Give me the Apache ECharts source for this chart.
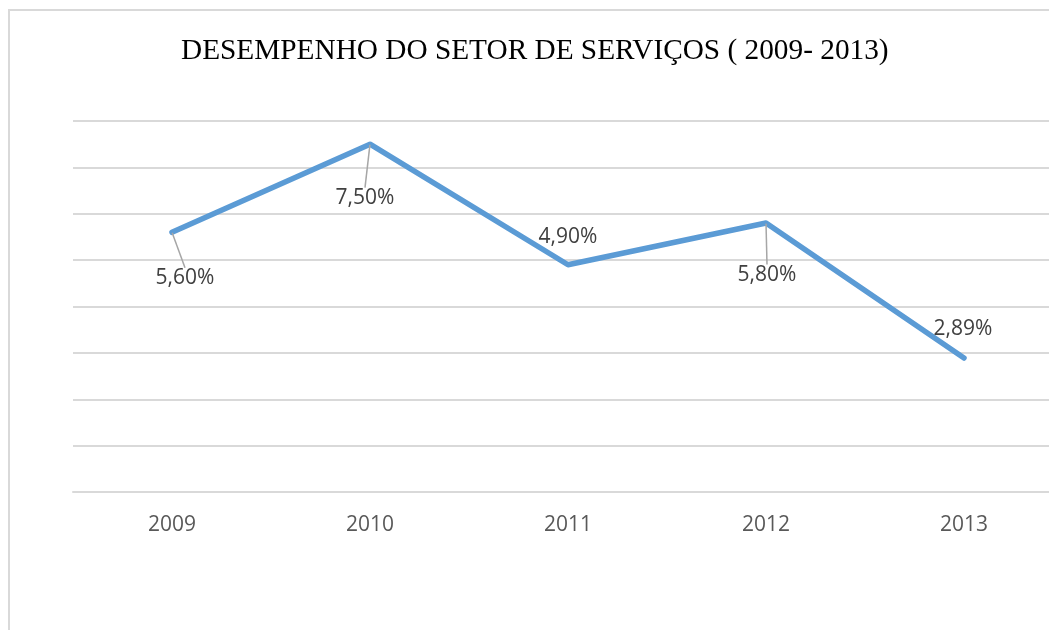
<!DOCTYPE html>
<html>
<head>
<meta charset="utf-8">
<script src="https://cdn.jsdelivr.net/npm/echarts@6/dist/echarts.min.js"></script>
<style>
  html, body { margin: 0; padding: 0; background: #fff; }
</style>
</head>
<body>
<div id="chart_servicos" style="width: 1049px; height: 630px;"></div>
<script>
  const titulo = 'DESEMPENHO DO SETOR DE SERVIÇOS ( 2009- 2013)';
  const anos = ['2009', '2010', '2011', '2012', '2013'];
  const desempenho = [5.6, 7.5, 4.9, 5.8, 2.89];
  const rotulos = ['5,60%', '7,50%', '4,90%', '5,80%', '2,89%'];

  // where each label sits relative to its point (like the office chart)
  const labelPos = ['bottom', 'bottom', 'top', 'bottom', 'top'];
  const labelShift = [[13, 27], [-5, 35], [0, -9], [1, 33], [-1, -10]];
  const leader = [true, true, false, true, false];

  let chart = echarts.init(document.getElementById('chart_servicos'));

  let option = {
    animation: false,
    title: {
      text: titulo,
      left: 176,
      top: 32,
      textStyle: {
        fontFamily: 'Liberation Serif',
        fontWeight: 'normal',
        fontSize: 29.3,
        color: '#000'
      }
    },
    graphic: [{
      type: 'rect',
      shape: { x: 9, y: 10, width: 1100, height: 700 },
      style: { fill: 'none', stroke: '#d9d9d9', lineWidth: 2 },
      silent: true,
      z: -1
    }],
    grid: {
      left: 73,
      top: 121,
      width: 990,
      bottom: 138,
      outerBoundsMode: 'none'
    },
    xAxis: {
      type: 'category',
      data: anos,
      boundaryGap: true,
      axisLine: { show: true, lineStyle: { color: '#d9d9d9', width: 2 } },
      axisTick: { show: false },
      axisLabel: {
        margin: 23,
        fontFamily: 'Open Sans',
        fontSize: 21,
        color: '#595959'
      }
    },
    yAxis: {
      type: 'value',
      min: 0,
      max: 8,
      interval: 1,
      axisLabel: { show: false },
      axisLine: { show: false },
      axisTick: { show: false },
      splitLine: { lineStyle: { color: '#d9d9d9', width: 2 } }
    },
    series: [{
      name: 'Serviços',
      type: 'line',
      data: desempenho.map((v, i) => ({
        value: v,
        label: { position: labelPos[i] },
        labelLine: { show: leader[i] }
      })),
      symbol: 'circle',
      symbolSize: 1,
      showSymbol: true,
      itemStyle: { color: '#5b9bd5' },
      lineStyle: { color: '#5b9bd5', width: 5.5, cap: 'round', join: 'round' },
      label: {
        show: true,
        distance: 8,
        fontFamily: 'Open Sans',
        fontSize: 21,
        color: '#404040',
        formatter: (p) => rotulos[p.dataIndex]
      },
      labelLine: {
        show: true,
        lineStyle: { color: '#a6a6a6', width: 1.5 }
      },
      labelLayout: (p) => ({
        dx: labelShift[p.dataIndex][0],
        dy: labelShift[p.dataIndex][1]
      })
    }]
  };

  chart.setOption(option);
</script>
</body>
</html>
